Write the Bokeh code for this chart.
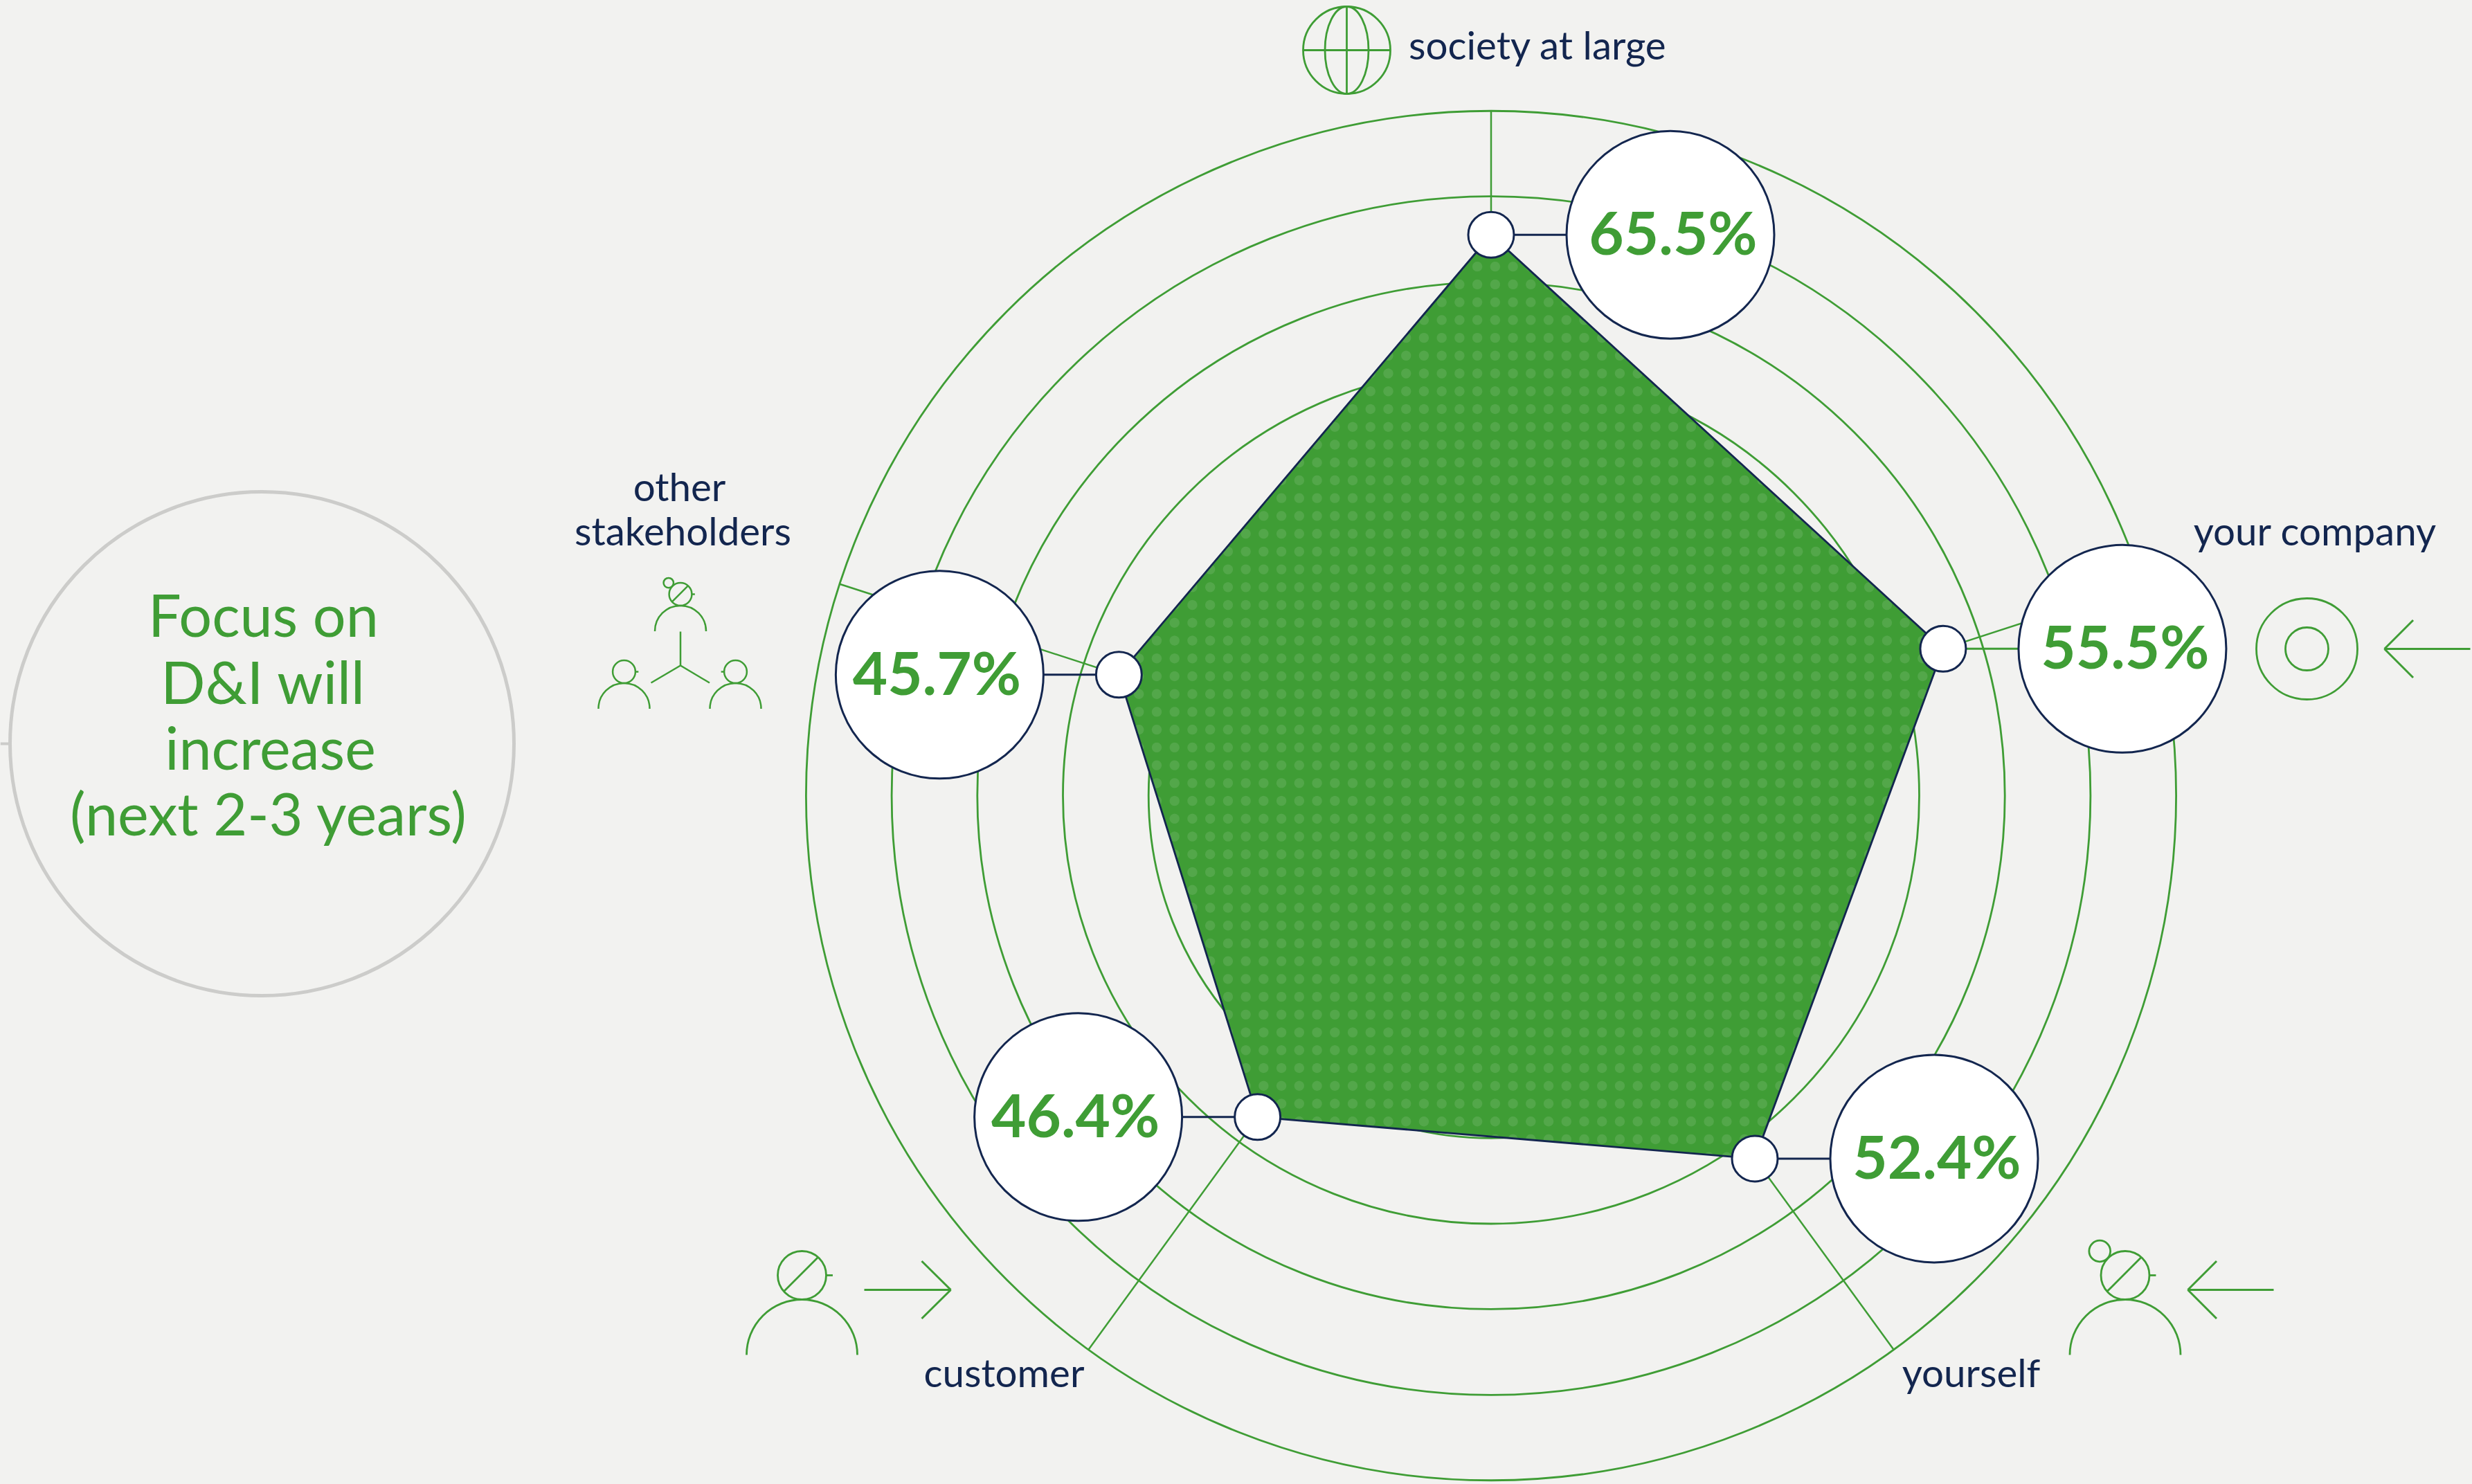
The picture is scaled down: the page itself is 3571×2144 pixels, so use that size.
import numpy as np
from bokeh.plotting import figure
from bokeh.embed import file_html
from bokeh.resources import INLINE
from bokeh.core.properties import value
from bokeh.models import Range1d

# ---- data ----
categories = ["society at large", "your company", "yourself", "customer", "other stakeholders"]
percentages = [65.5, 55.5, 52.4, 46.4, 45.7]
ring_levels = [40, 50, 60, 70, 80]
title_lines = ["Focus on", "D&I will", "increase", "(next 2-3 years)"]

# ---- styling ----
BG = "#F2F2F0"
GREEN = "#3F9D35"
DOT = "#53A74A"
NAVY = "#13264F"
GREY = "#CCCCCA"
FONT = value("Lato")
BASE = 0.385  # baseline correction, fraction of the font size

W, H = 3571, 2144
CX, CY, K = 2153.5, 1149.0, 12.37   # page pixel centre and pixels per percentage point


def X(px):
    return (np.asarray(px, dtype=float) - CX) / K


def Y(py):
    return (CY - np.asarray(py, dtype=float)) / K


def R(r):
    return r / K


p = figure(width=W, height=H, output_backend="svg", toolbar_location=None,
           x_range=Range1d(float(X(0)), float(X(W))),
           y_range=Range1d(float(Y(H)), float(Y(0))),
           x_axis_location=None, y_axis_location=None,
           min_border=0, background_fill_color=BG, border_fill_color=BG,
           outline_line_color=None)
p.grid.visible = False

n = len(categories)
angles = np.deg2rad(90 - 72 * np.arange(n))
vals = np.array(percentages)
px_ = vals * np.cos(angles)
py_ = vals * np.sin(angles)

# rings and spokes
p.circle(x=[0] * len(ring_levels), y=[0] * len(ring_levels), radius=ring_levels,
         fill_color=None, line_color=GREEN, line_width=2.8)
outer = max(ring_levels)
p.segment(x0=[0] * n, y0=[0] * n, x1=outer * np.cos(angles), y1=outer * np.sin(angles),
          line_color=GREEN, line_width=2.5)

# filled pentagon
p.patch(px_, py_, fill_color=GREEN, line_color=None)


# dot texture clipped to the pentagon
def clip(poly, a, b):
    out = []
    m = len(poly)
    side = lambda q: (b[0] - a[0]) * (q[1] - a[1]) - (b[1] - a[1]) * (q[0] - a[0])
    for i in range(m):
        c, d = poly[i], poly[(i + 1) % m]
        sc, sd = side(c), side(d)
        if sc <= 0:
            out.append(c)
        if sc * sd < 0:
            t = sc / (sc - sd)
            out.append((c[0] + t * (d[0] - c[0]), c[1] + t * (d[1] - c[1])))
    return out


STEP, DR = 25.73, 7.2
theta = np.linspace(0, 2 * np.pi, 20, endpoint=False)
verts = list(zip(px_, py_))
dx, dy = [], []
for gx in np.arange(2030.7 - 40 * STEP, 3000, STEP):
    for gy in np.arange(925 - 40 * STEP, 1800, STEP):
        poly = [(float(X(gx + DR * np.cos(t))), float(Y(gy + DR * np.sin(t)))) for t in theta]
        for i in range(n):
            poly = clip(poly, verts[i], verts[(i + 1) % n])
            if not poly:
                break
        if len(poly) > 2:
            dx.append([q[0] for q in poly])
            dy.append([q[1] for q in poly])
p.patches(dx, dy, fill_color=DOT, line_color=None)

p.patch(px_, py_, fill_color=None, line_color=NAVY, line_width=2.8)

# bubbles with connectors
OFF = R(259)
side_sign = np.array([1, 1, 1, -1, -1])
bx = px_ + side_sign * OFF
conn_colors = [NAVY, GREEN, NAVY, NAVY, NAVY]
p.segment(px_, py_, bx, py_, line_color=conn_colors, line_width=3)
p.circle(bx, py_, radius=R(150), fill_color="white", line_color=NAVY, line_width=3)
p.circle(px_, py_, radius=R(33), fill_color="white", line_color=NAVY, line_width=3)
BUBBLE_SIZE = 87
p.text(bx + side_sign * R(4), py_ - R(29 - BASE * BUBBLE_SIZE), text=[f"{v:.1f}%" for v in percentages],
       text_align="center", text_baseline="alphabetic", text_color=GREEN, text_font=FONT,
       text_font_style="bold", text_font_size=f"{BUBBLE_SIZE}px")


# axis labels
def label(s, x, y, size=56.5, color=NAVY):
    p.text([float(X(x))], [float(Y(y - BASE * size))], text=[s], text_align="center", text_baseline="alphabetic",
           text_color=color, text_font=FONT, text_font_size=f"{size}px")


label(categories[0], 2221, 85)
label(categories[1], 3344, 787)
label(categories[2], 2847, 2003)
label(categories[3], 1450, 2003)
label("other", 981, 723)
label("stakeholders", 986, 787)

# left circle with title
p.circle([float(X(378))], [float(Y(1074))], radius=R(364), fill_color=None, line_color=GREY, line_width=5)
p.segment([float(X(0))], [float(Y(1074))], [float(X(14))], [float(Y(1074))], line_color=GREY, line_width=4)
for s, x, y in zip(title_lines, [380, 380, 390, 388], [920, 1017, 1112, 1207]):
    label(s, x, y, size=84.5, color=GREEN)


# icons
def seg(x0, y0, x1, y1, lw=2.8):
    p.line(X([x0, x1]), Y([y0, y1]), line_color=GREEN, line_width=lw)


def ring(x, y, r, lw=2.8):
    p.circle([float(X(x))], [float(Y(y))], radius=R(r), fill_color=None, line_color=GREEN, line_width=lw)


def person(x, y, r, br, slash=False, tick=1, friend=False, lw=2.8):
    ring(x, y, r, lw)
    p.arc([float(X(x))], [float(Y(y + r + br))], radius=R(br), start_angle=0, end_angle=np.pi,
          line_color=GREEN, line_width=lw)
    seg(x + tick * r, y, x + tick * 1.27 * r, y, lw)
    if slash:
        seg(x - .74 * r, y + .66 * r, x + .66 * r, y - .74 * r, lw)
    if friend:
        ring(x - 1.05 * r, y - r, .44 * r, lw)


def arrow(x0, x1, y, barb):
    seg(x0, y, x1, y, 3)
    d = barb if x1 > x0 else -barb
    seg(x1 - d, y - 41.5, x1, y, 3)
    seg(x1 - d, y + 41.5, x1, y, 3)


# globe
ring(1945, 72, 63)
p.ellipse([float(X(1945))], [float(Y(72))], width=R(63), height=R(126), fill_color=None,
          line_color=GREEN, line_width=2.8)
seg(1882, 72, 2008, 72)
seg(1945, 9, 1945, 135)

# target
ring(3332, 937, 73)
ring(3332, 937, 31)
arrow(3568, 3444, 937, 41.5)

# customer
person(1158, 1842, 35, 80, slash=True)
arrow(1248, 1373, 1863, 42)

# yourself
person(3069.5, 1842, 35, 80, slash=True, friend=True)
arrow(3284, 3160, 1863, 41.5)

# stakeholders
person(982.5, 858, 16.4, 37, slash=True, friend=True, lw=2.5)
person(901, 970, 16.4, 37, lw=2.5)
person(1062, 970, 16.4, 37, tick=-1, lw=2.5)
seg(982.5, 912, 982.5, 961, 2.5)
seg(982.5, 961, 940, 986, 2.5)
seg(982.5, 961, 1024.5, 986, 2.5)

html = file_html(p, INLINE)
html = html.replace("<head>", "<head><style>html{overflow:hidden;background:%s}body{background:%s}</style>" % (BG, BG), 1)
open("out.html", "w").write(html)
